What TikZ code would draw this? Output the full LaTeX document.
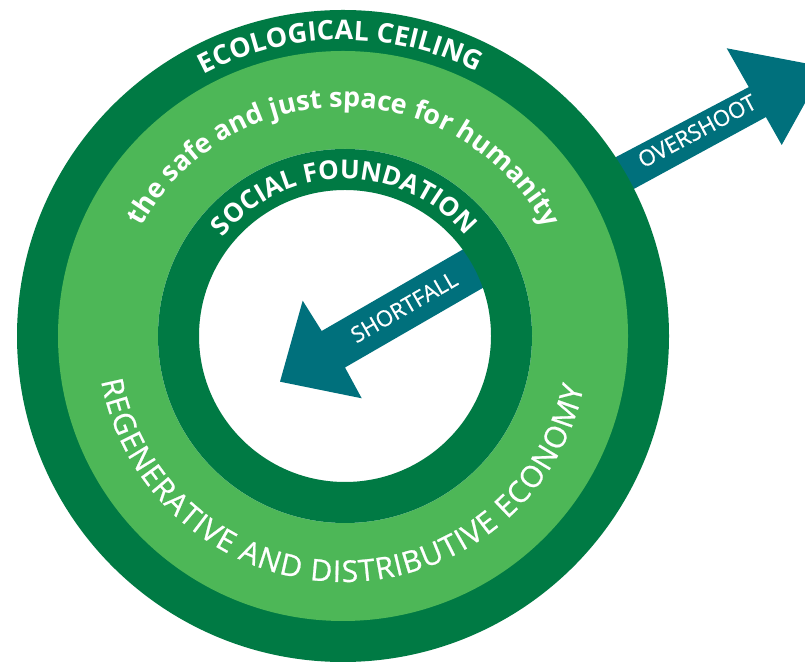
\documentclass[tikz,border=0pt]{standalone}
\usepackage{fontspec}
\setmainfont{Open Sans}
\newfontfamily\osmed{Open Sans}[FakeBold=0.7]
\usetikzlibrary{decorations.text}
\definecolor{darkg}{RGB}{0,122,68}
\definecolor{lightg}{RGB}{77,183,87}
\definecolor{arrowteal}{RGB}{0,112,124}
\newcommand\fEco{\fontsize{27}{29}\selectfont\bfseries}
\newcommand\fSafe{\fontsize{27}{29}\selectfont\bfseries}
\newcommand\fSoc{\fontsize{26}{28}\selectfont\bfseries}
\newcommand\fReg{\fontsize{30}{32}\selectfont\osmed}
\newcommand\fArr{\fontsize{22}{24}\selectfont\osmed}
\begin{document}
\begin{tikzpicture}[x=1pt,y=1pt,
  ringfit/.style={decorate, decoration={text along path, text color=white, text align={fit to path}, text={#1}}},
  ringmid/.style={decorate, decoration={text along path, text color=white, text align=center, text={#1}}},
  arrowlabel/.style={text=white, font=\fArr, inner sep=0pt}]
\useasboundingbox (0,0) rectangle (805,663);
\clip (0,0) rectangle (805,663);
\fill[white] (0,0) rectangle (805,663);
\coordinate (C) at (343,327);
\coordinate (Ci) at (345,327);
% overshoot arrow (behind the doughnut)
\fill[arrowteal] (540.7,466.3) -- (748.8,575.9) -- (726.7,614.7) -- (825,596) -- (781.7,518) -- (765.9,545.9) -- (560.8,434.3) -- cycle;
% rings
\fill[darkg] (C) circle[radius=326];
\fill[lightg] (C) circle[radius=285];
\fill[white] (Ci) circle[radius=187];
% shortfall arrow
\fill[arrowteal] (486.2,427) -- (321.7,332) -- (302.7,362.3) -- (280,281.3) -- (361.7,264.7) -- (345,295.5) -- (509.5,390.5) -- cycle;
\fill[darkg, even odd rule] (Ci) circle[radius=187] (Ci) circle[radius=146];
% ring texts
\path[ringmid={|\fEco|ECOLOGICAL CEILING}] ([shift={(150.5:296)}]C) arc[start angle=150.5, end angle=30.5, radius=296];
\path[ringmid={|\fSafe|the safe and just space for humanity}] ([shift={(179.7:229)}]C) arc[start angle=179.7, end angle=-0.3, radius=229];
\path[ringfit={|\fSoc|SOCIAL FOUNDATION}] ([shift={(141:157)}]Ci) arc[start angle=141, end angle=41, radius=157];
\path[ringfit={|\fReg|REGENERATIVE AND DISTRIBUTIVE ECONOMY}] ([shift={(190.5:246)}]C) arc[start angle=190.5, end angle=348, radius=246];
% arrow labels
\node[arrowlabel, rotate=28] (over) at (697,532) {OVERSHOOT};
\node[arrowlabel, rotate=30] (short) at (404,356) {SHORTFALL};
\end{tikzpicture}
\end{document}
